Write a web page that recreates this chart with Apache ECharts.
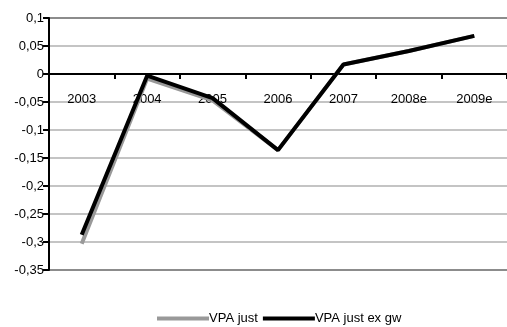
<!DOCTYPE html>
<html><head><meta charset="utf-8">
<script src="https://cdn.jsdelivr.net/npm/echarts@6/dist/echarts.min.js"></script>
<style>html,body{margin:0;padding:0;background:#fff}#c{width:507px;height:327px}</style>
</head><body><div id="c"></div>
<script>
const categories = ['2003','2004','2005','2006','2007','2008e','2009e'];
const vpaJust = [-0.303, -0.008, -0.047, -0.136, 0.017, 0.041, 0.068];
const vpaJustExGw = [-0.287, -0.003, -0.043, -0.136, 0.017, 0.041, 0.068];
const FONT = '"Liberation Sans","Arial",sans-serif';
const GRID_TOP = 18, GRID_H = 252, Y_MIN = -0.35, Y_MAX = 0.1;
const zeroOffset = GRID_H * Y_MAX / (Y_MAX - Y_MIN);
const chart = echarts.init(document.getElementById('c'), null, {renderer:'canvas'});
chart.setOption({
  animation:false,
  grid:{left:49, top:GRID_TOP, width:458, height:GRID_H, containLabel:false},
  legend:{
    top:307, left:152, itemWidth:52, itemHeight:4, itemGap:5,
    icon:'rect',
    textStyle:{fontFamily:FONT, fontSize:13, color:'#000', padding:[0,0,0,-5]},
    data:['VPA just','VPA just ex gw']
  },
  xAxis:{
    type:'category', data:categories, boundaryGap:true,
    position:'top', offset:-zeroOffset,
    axisLine:{onZero:false, lineStyle:{color:'#000', width:2}},
    axisTick:{show:true, inside:true, length:5, lineStyle:{color:'#000', width:2}},
    axisLabel:{inside:true, fontFamily:FONT, fontSize:13, color:'#000', margin:19},
    splitLine:{show:false}
  },
  yAxis:{
    type:'value', min:Y_MIN, max:Y_MAX, interval:0.05,
    axisLine:{show:true, lineStyle:{color:'#000', width:2}},
    axisTick:{show:true, length:6, lineStyle:{color:'#000', width:2}},
    axisLabel:{fontFamily:FONT, fontSize:13, color:'#000', margin:5,
      formatter:function(v){ return String(Math.round(v*100)/100).replace('.',','); }},
    splitLine:{show:true, lineStyle:{
      color:['#8c8c8c','#c4c4c4','#c4c4c4','#c4c4c4','#c4c4c4','#c4c4c4','#c4c4c4','#c4c4c4','#c4c4c4','#8c8c8c'],
      width:2}}
  },
  series:[
    {name:'VPA just', type:'line', data:vpaJust, symbol:'none',
      lineStyle:{color:'#999999', width:4}, itemStyle:{color:'#999999'}, z:2},
    {name:'VPA just ex gw', type:'line', data:vpaJustExGw, symbol:'none',
      lineStyle:{color:'#000000', width:4}, itemStyle:{color:'#000000'}, z:3}
  ]
});
</script></body></html>
